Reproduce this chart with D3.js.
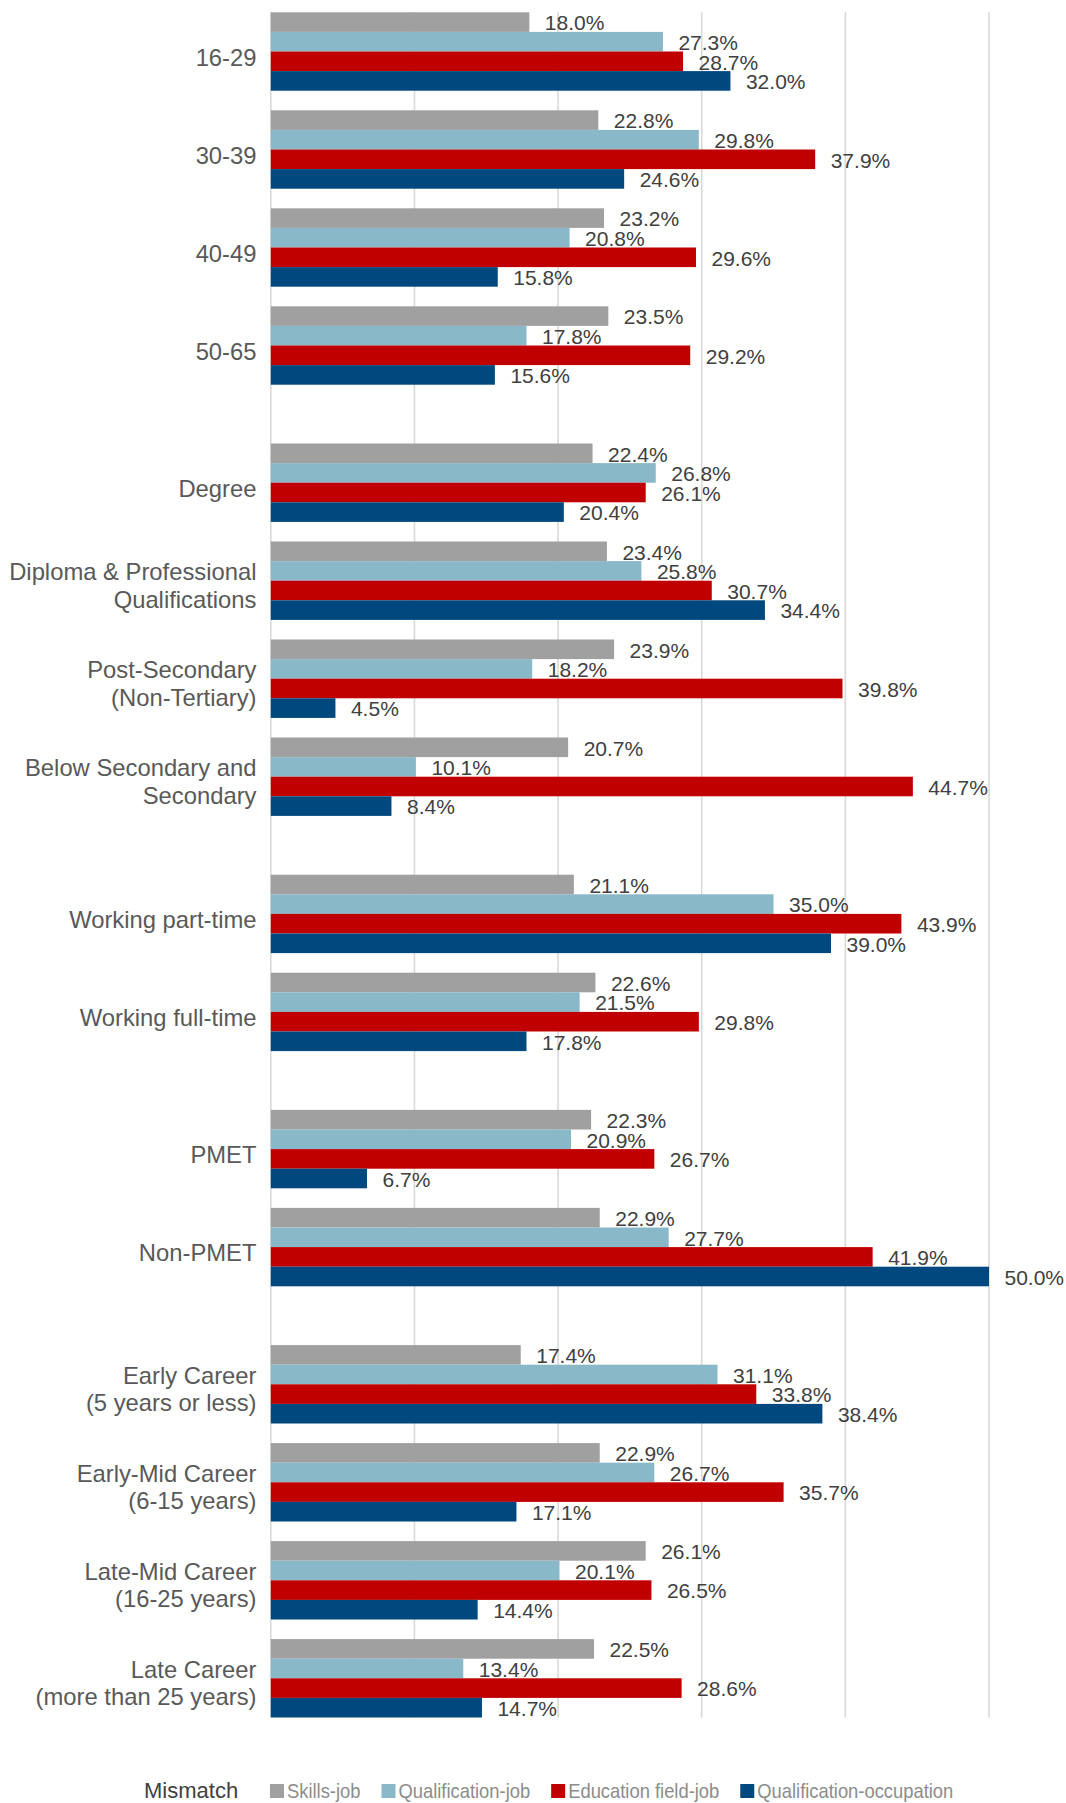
<!DOCTYPE html>
<html>
<head>
<meta charset="utf-8">
<script src="https://cdn.jsdelivr.net/npm/d3@7/dist/d3.min.js"></script>
<style>
  html, body { margin: 0; padding: 0; background: #ffffff; }
  svg { display: block; font-family: "Liberation Sans", Arial, sans-serif; }
</style>
</head>
<body>
<svg id="chart" width="1066" height="1803"></svg>
<script>
// Categories, grouped into sections (a wider gap separates sections)
const categories = [
  "16-29", "30-39", "40-49", "50-65",
  "Degree", "Diploma & Professional\nQualifications", "Post-Secondary\n(Non-Tertiary)", "Below Secondary and\nSecondary",
  "Working part-time", "Working full-time",
  "PMET", "Non-PMET",
  "Early Career\n(5 years or less)", "Early-Mid Career\n(6-15 years)", "Late-Mid Career\n(16-25 years)", "Late Career\n(more than 25 years)"
];
const sectionOf = [0, 0, 0, 0, 1, 1, 1, 1, 2, 2, 3, 3, 4, 4, 4, 4];

const seriesNames = ["Skills-job", "Qualification-job", "Education field-job", "Qualification-occupation"];
const seriesColors = ["#a0a0a0", "#89b8c8", "#c00000", "#00487d"];

// Mismatch rates (%) per category, one array per series
const skillsJob = [18.0, 22.8, 23.2, 23.5, 22.4, 23.4, 23.9, 20.7, 21.1, 22.6, 22.3, 22.9, 17.4, 22.9, 26.1, 22.5];
const qualificationJob = [27.3, 29.8, 20.8, 17.8, 26.8, 25.8, 18.2, 10.1, 35.0, 21.5, 20.9, 27.7, 31.1, 26.7, 20.1, 13.4];
const educationFieldJob = [28.7, 37.9, 29.6, 29.2, 26.1, 30.7, 39.8, 44.7, 43.9, 29.8, 26.7, 41.9, 33.8, 35.7, 26.5, 28.6];
const qualificationOccupation = [32.0, 24.6, 15.8, 15.6, 20.4, 34.4, 4.5, 8.4, 39.0, 17.8, 6.7, 50.0, 38.4, 17.1, 14.4, 14.7];

const xTicks = [0, 10, 20, 30, 40, 50];
const legendTitle = "Mismatch";

const seriesValues = [skillsJob, qualificationJob, educationFieldJob, qualificationOccupation];

const svg = d3.select("#chart");

// Layout
const plotLeft = 270.8, plotRight = 989;
const plotTop = 12.3;
const slotStep = 98;
const sectionGap = 0.4;        // extra slot fraction between sections
const bandFrac = 0.8;          // group height as fraction of a slot

const slotPos = categories.map((c, i) => i + sectionGap * sectionOf[i]);
const totalSlots = slotPos[slotPos.length - 1] + bandFrac;

const x = d3.scaleLinear().domain([0, 50]).range([plotLeft, plotRight]);
const ySlot = d3.scaleLinear().domain([0, totalSlots]).range([plotTop, plotTop + totalSlots * slotStep]);
const groupHeight = ySlot(bandFrac) - ySlot(0);
const yInner = d3.scaleBand().domain(seriesNames).range([0, groupHeight]).padding(0);
const plotBottom = ySlot(totalSlots);

// Vertical gridlines (including the category axis line at 0)
svg.append("g")
  .selectAll("line")
  .data(xTicks)
  .join("line")
  .attr("x1", d => x(d)).attr("x2", d => x(d))
  .attr("y1", plotTop).attr("y2", plotBottom)
  .attr("stroke", "#d9d9d9")
  .attr("stroke-width", 1.6);

// Bars
const groups = svg.append("g")
  .selectAll("g")
  .data(categories)
  .join("g")
  .attr("transform", (d, i) => `translate(0,${ySlot(slotPos[i])})`);

groups.each(function(cat, ci) {
  const g = d3.select(this);
  const rows = seriesNames.map((s, si) => ({ s, si, v: seriesValues[si][ci] }));
  g.selectAll("rect")
    .data(rows)
    .join("rect")
    .attr("x", x(0))
    .attr("y", d => yInner(d.s))
    .attr("width", d => x(d.v) - x(0))
    .attr("height", yInner.bandwidth())
    .attr("fill", d => seriesColors[d.si]);

  g.selectAll("text.val")
    .data(rows)
    .join("text")
    .attr("class", "val")
    .attr("x", d => x(d.v) + 15.5)
    .attr("y", d => yInner(d.s) + yInner.bandwidth() / 2 + 8.3)
    .attr("font-size", 21)
    .attr("fill", "#404040")
    .text(d => d.v.toFixed(1) + "%");
});

// Category labels
const labelX = 256.5;
groups.append("text")
  .attr("text-anchor", "end")
  .attr("font-size", 23.8)
  .attr("fill", "#595959")
  .each(function(cat) {
    const lines = cat.split("\n");
    const mid = groupHeight / 2;
    const t = d3.select(this);
    if (lines.length === 1) {
      t.append("tspan").attr("x", labelX).attr("y", mid + 14.2).text(lines[0]);
    } else {
      t.append("tspan").attr("x", labelX).attr("y", mid - 0.5).text(lines[0]);
      t.append("tspan").attr("x", labelX).attr("y", mid + 27).text(lines[1]);
    }
  });

// Legend
const legend = svg.append("g").attr("transform", "translate(0,1798)");
legend.append("text")
  .attr("x", 144)
  .attr("y", 0)
  .attr("font-size", 22)
  .attr("fill", "#404040")
  .text(legendTitle);

let lx = 270;
const squareSize = 14;
const squeeze = 0.875;
seriesNames.forEach((name, i) => {
  legend.append("rect")
    .attr("x", lx).attr("y", -squareSize)
    .attr("width", squareSize).attr("height", squareSize)
    .attr("fill", seriesColors[i]);
  const tx = lx + squareSize + 3;
  const txt = legend.append("text")
    .attr("transform", `translate(${tx},0) scale(${squeeze},1)`)
    .attr("font-size", 21)
    .attr("fill", "#8c8c8c")
    .text(name);
  const w = txt.node().getComputedTextLength() * squeeze;
  lx = tx + w + 21;
});
</script>
</body>
</html>
